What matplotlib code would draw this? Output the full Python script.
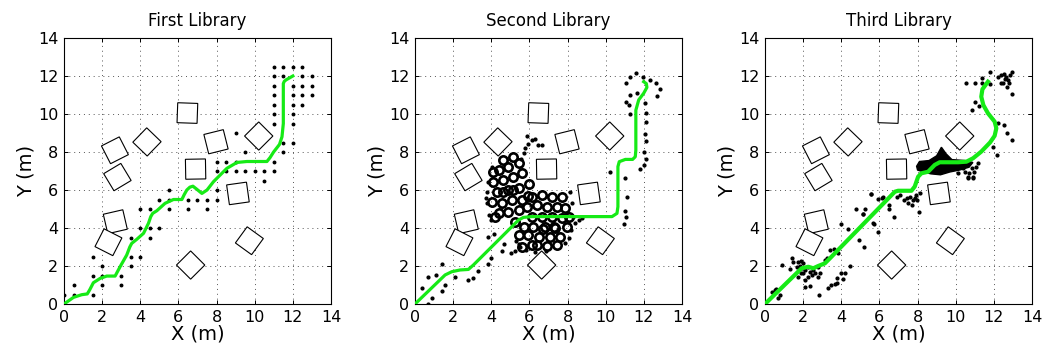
import matplotlib
matplotlib.use("Agg")
import matplotlib.pyplot as plt
import matplotlib.patches as mpatches

# obstacles (same map in all three panels)
obs_x   = [6.47, 6.90, 4.35, 2.67, 2.80, 2.69, 2.33, 6.64, 7.97, 10.21, 9.12, 9.72]
obs_y   = [10.05, 7.10, 8.53, 8.09, 6.68, 4.33, 3.25, 2.05, 8.54, 8.84, 5.82, 3.33]
obs_ang = [-2, 1, 46, 27, 31, 13, -27, 45, 14, 45, 8, -36]

titles = ["First Library", "Second Library", "Third Library"]

# ---- panel 1 ----
path1_x = [0, 0.5, 0.93, 1.22, 1.35, 1.54, 1.9, 2.24, 2.68, 2.94, 3.29, 3.45, 3.55, 3.81, 4.17,
           4.43, 4.55, 4.65, 4.87, 5.3, 5.74, 6.18, 6.3, 6.44, 6.6, 6.76, 6.95, 7.23, 7.5, 7.84,
           8.54, 9.07, 9.59, 10.64, 10.8, 10.99, 11.3, 11.43, 11.5, 11.5, 11.55, 11.65, 12.0]
path1_y = [0, 0.35, 0.49, 0.53, 0.75, 1.12, 1.35, 1.47, 1.47, 1.96, 2.58, 3.0, 3.19, 3.40, 3.72,
           4.25, 4.6, 4.77, 4.91, 5.3, 5.5, 5.5, 5.75, 6.0, 6.15, 6.2, 6.05, 5.82, 6.0, 6.44,
           7.14, 7.45, 7.5, 7.5, 7.7, 8.0, 8.4, 8.8, 9.5, 11.6, 11.72, 11.8, 12.0]
dots1_x = [0, 0.5, 1.5, 0.5, 2, 3, 1.5, 2, 3, 2, 3.5, 1.5, 3.5, 4, 3.5, 4.5, 4, 4.5, 5,
           4, 4.5, 5.5, 6.5, 7.5, 5, 5.5, 6.5, 7, 7.5, 8, 5.5, 8, 10.5,
           8, 8.5, 9, 9.5, 10, 10.5, 11, 8, 8.5, 9, 11, 9.5, 11.5, 11.5, 12, 9,
           11, 12, 11, 12, 11, 12, 12.5, 11, 12, 12.5, 13, 11, 12, 12.5, 13,
           11, 11.5, 12.5, 13, 11, 11.5, 12, 12.5]
dots1_y = [0.5, 0.5, 0.5, 1, 1, 1, 1.5, 1.5, 1.5, 2, 2, 2.5, 2.5, 2.5, 3.5, 3.5, 4, 4, 4,
           5, 5, 5, 5, 5, 5.5, 5.5, 5.5, 5.5, 5.5, 5.5, 6, 6, 6.5,
           7, 7, 7, 7, 7, 7, 7, 7.5, 7.5, 7.5, 7.5, 8, 8, 8.5, 8.5, 9,
           9.5, 9.5, 10, 10, 10.5, 10.5, 10.5, 11, 11, 11, 11, 11.5, 11.5, 11.5, 11.5,
           12, 12, 12, 12, 12.5, 12.5, 12.5, 12.5]

# ---- panel 2 ----
path2_x = [0, 1.58, 1.93, 2.36, 2.8, 3.06, 5.43, 5.69, 6.13, 10.33, 10.59, 10.64, 10.64, 10.71,
           11.03, 11.41, 11.55, 11.58, 11.58, 11.73, 11.99, 12.16, 12.13, 11.99]
path2_y = [0, 1.53, 1.7, 1.79, 1.82, 2.05, 4.42, 4.56, 4.6, 4.6, 4.77, 5.12, 7.23, 7.49,
           7.61, 7.61, 7.75, 8.1, 10.2, 10.74, 11.09, 11.4, 11.6, 11.7]
rings2_x = [4.38, 4.9, 5.43, 4.11, 4.64, 5.16, 5.6, 4.29, 4.9, 5.43, 4.03, 4.55, 5.08, 5.6,
            4.38, 4.9, 5.43, 6.13, 6.65, 7.18, 7.7, 5.86, 6.39, 6.91, 7.44, 7.88, 6.13, 6.65,
            7.18, 7.7, 5.69, 6.21, 6.83, 7.35, 7.96, 5.43, 5.95, 6.48, 7.09, 7.61, 6.13, 5.6,
            4.64, 5.16, 4.6, 5.15, 4.1, 6.4, 6.9, 7.45, 5.95, 6.7, 7.3, 8.1, 4.2, 6.0, 5.25]
rings2_y = [7.05, 7.23, 7.4, 6.44, 6.53, 6.7, 6.88, 5.91, 6.0, 6.09, 5.39, 5.3, 5.47, 5.47,
            4.77, 4.86, 4.95, 5.65, 5.74, 5.65, 5.65, 5.12, 5.21, 5.12, 5.12, 5.04, 4.6, 4.6,
            4.6, 4.51, 4.07, 4.07, 4.07, 3.98, 4.07, 3.63, 3.63, 3.54, 3.51, 3.54, 3.11, 3.02,
            7.6, 7.75, 5.9, 6.0, 6.95, 3.1, 3.05, 3.1, 5.7, 3.95, 4.05, 4.6, 4.6, 6.3, 4.3]
dots2_x = [0.35, 0.7, 0.88, 0.7, 1.09, 1.44, 1.44, 1.58, 2.1, 2.8, 3.06, 3.29, 3.85, 3.97,
           3.85, 4.15, 4.55, 4.67, 5.02, 5.22, 5.43, 5.51, 3.8, 3.75, 3.9, 8.58, 8.75, 8.4,
           8.3, 5.86, 5.92, 5.78, 5.69, 5.57, 6.13, 6.27, 6.44, 6.68,
           3.7, 3.85, 4.05, 8.15, 8.25, 8.2, 8.05, 7.85, 6.85, 6.3, 5.8, 5.3, 4.0,
           10.24, 11.03, 11.11, 10.99, 11.08, 10.94, 11.81, 11.99, 12.13, 12.13, 11.99, 12.08,
           12.13, 12.13, 12.08, 11.25, 11.2, 11.06, 11.29, 11.06, 11.25, 11.6, 11.95, 12.3,
           12.65, 12.83, 12.69, 11.64]
dots2_y = [0.82, 0.0, 0.33, 1.4, 1.53, 2.11, 0.68, 1.0, 1.4, 1.26, 1.35, 1.75, 2.09, 2.44,
           3.51, 3.67, 2.81, 3.14, 2.67, 2.81, 3.14, 2.98, 5.9, 5.3, 4.7, 4.42, 4.51, 4.25,
           4.6, 8.84, 8.42, 8.19, 7.93, 7.61, 8.63, 8.67, 8.37, 8.37,
           5.6, 6.4, 7.2, 5.9, 5.3, 3.9, 3.5, 3.2, 2.8, 2.75, 2.85, 3.3, 4.4,
           6.93, 6.61, 5.65, 4.89, 4.56, 4.21, 7.11, 7.32, 7.61, 8.6, 8.02, 8.93,
           9.6, 10.04, 10.6, 9.98, 10.47, 10.61, 11.0, 11.61, 11.96, 12.14, 11.96, 11.79,
           11.65, 11.3, 10.95, 11.12]

# ---- panel 3 ----
path3_x = [0, 1.92, 2.27, 2.53, 2.79, 3.14, 3.4, 6.81, 6.98, 7.68, 7.85, 8.03, 8.2, 8.55, 8.9,
           9.16, 10.12, 10.56, 10.91, 11.34, 11.8, 12.04, 12.13, 12.04, 11.69, 11.45, 11.34,
           11.4, 11.69]
path3_y = [0, 1.88, 1.96, 1.88, 2.0, 2.14, 2.4, 5.91, 5.96, 5.96, 6.18, 6.7, 6.88, 6.96, 7.32,
           7.46, 7.46, 7.49, 7.67, 8.02, 8.5, 8.85, 9.25, 9.6, 10.04, 10.47, 10.91,
           11.3, 11.7]
blob3_x = [7.95, 8.1, 8.6, 9.0, 9.25, 9.5, 9.8, 10.5, 10.9, 10.7, 10.2, 9.7, 9.2, 8.7, 8.3, 8.0]
blob3_y = [7.25, 7.5, 7.55, 7.8, 8.25, 7.9, 7.6, 7.55, 7.45, 7.2, 7.05, 6.95, 6.8, 6.85, 6.95, 7.05]
dots3_x = [0.35, 0.52, 0.7, 0.79, 0.91, 1.4, 1.48, 1.31, 1.66, 1.75, 1.88, 2.0, 1.83, 1.95,
           2.09, 2.27, 2.36, 2.53, 2.62, 2.44, 2.76, 2.88, 1.88, 1.75, 2.23, 2.09, 2.36, 2.0,
           2.79, 3.14, 3.23, 3.4, 3.63, 3.84, 4.01, 4.19, 4.1, 3.8, 3.8, 3.66, 3.46, 3.28,
           2.84, 2.09, 0.58, 4.01, 4.45, 4.36, 4.92, 5.18, 5.24, 5.55, 5.15, 5.72, 5.93,
           5.54, 4.77, 5.15, 5.64, 5.94, 6.11, 6.2, 6.51, 6.51, 6.76, 6.9, 7.07, 7.28, 7.42,
           7.51, 7.6, 7.77, 7.86, 7.91, 7.69, 7.95, 8.08, 8.12,
           10.38, 10.65, 10.91, 11.08, 11.17, 10.12, 10.96, 10.88, 10.7, 10.91, 10.65, 10.48,
           11.79, 11.4, 11.4, 11.0, 10.56, 12.22, 12.4, 12.52, 12.66, 12.83, 12.97, 12.35,
           12.48, 12.75, 12.8, 12.69, 12.97, 11.79, 12.57, 11.0, 10.83, 11.23, 12.22, 12.54,
           12.71, 12.97, 11.93, 12.19]
dots3_y = [0.65, 0.74, 0.3, 0.47, 2.05, 2.4, 2.23, 1.82, 1.93, 2.23, 2.26, 2.14, 1.99, 1.87,
           1.79, 1.96, 1.7, 1.79, 1.61, 1.53, 1.44, 1.61, 1.61, 1.44, 1.44, 1.26, 0.95, 1.61,
           1.96, 2.32, 2.4, 2.84, 2.88, 2.67, 1.65, 1.65, 1.3, 1.35, 1.12, 1.03, 0.98, 0.86,
           0.47, 0.88, 0.79, 4.21, 2.0, 3.95, 3.37, 2.98, 5.0, 5.77, 4.74, 4.19, 3.81,
           5.77, 4.98, 4.74, 4.25, 5.51, 5.56, 5.65, 5.21, 4.98, 4.56, 5.61, 5.74, 5.47, 5.56,
           5.33, 5.65, 5.47, 5.56, 5.74, 5.21, 5.47, 4.86, 5.83,
           7.14, 6.7, 6.7, 7.19, 7.44, 6.88, 6.96, 7.14, 6.88, 6.65, 6.65, 6.96,
           12.19, 11.88, 11.61, 11.65, 11.61, 11.96, 12.05, 12.09, 11.96, 12.05, 12.19, 11.61,
           11.61, 11.79, 11.61, 11.44, 11.04, 11.56, 11.84, 10.65, 10.21, 10.42, 9.54, 9.42,
           9.02, 8.63, 8.25, 7.84]

GREEN = "#16ea16"
SIDE = 1.05
W_IN, H_IN = 10.43, 3.56
plt.rcParams["font.family"] = "DejaVu Sans"

fig = plt.figure(figsize=(W_IN, H_IN), dpi=100)
lefts = [64, 415, 765]
axes = []
for i, lx in enumerate(lefts):
    ax = fig.add_axes([lx / 1043, 52 / 356, 267 / 1043, 266 / 356])
    ax.set_xlim(0, 14); ax.set_ylim(0, 14)
    ax.set_xticks(range(0, 15, 2)); ax.set_yticks(range(0, 15, 2))
    ax.tick_params(direction="in", top=True, right=True, length=3, width=0.7,
                   labelsize=11.5, pad=4)
    ax.grid(True, color="#555555", linestyle=(0, (1, 4)), linewidth=0.7)
    ax.set_axisbelow(True)
    for sp in ax.spines.values():
        sp.set_linewidth(0.8)
    ax.set_title(titles[i], fontsize=12, pad=9)
    ax.set_xlabel("X (m)", fontsize=14, labelpad=0)
    ax.set_ylabel("Y (m)", fontsize=14, labelpad=2)
    for cx, cy, a in zip(obs_x, obs_y, obs_ang):
        ax.add_patch(mpatches.Rectangle((cx - SIDE / 2, cy - SIDE / 2), SIDE, SIDE, angle=a,
                                        rotation_point="center", facecolor="white",
                                        edgecolor="black", linewidth=0.8, zorder=2))
    axes.append(ax)

ax1, ax2, ax3 = axes
ax1.plot(dots1_x, dots1_y, "o", color="black", markersize=1.8, zorder=3)
ax1.plot(path1_x, path1_y, color=GREEN, linewidth=2.3, zorder=4)

ax2.plot(rings2_x, rings2_y, "o", markerfacecolor="none", markeredgecolor="black",
         markersize=6, markeredgewidth=1.9, zorder=3)
ax2.plot(dots2_x, dots2_y, "o", color="black", markersize=2, zorder=3)
ax2.plot(path2_x, path2_y, color=GREEN, linewidth=2.3, zorder=4)

ax3.fill(blob3_x, blob3_y, color="black", zorder=3)
ax3.plot(dots3_x, dots3_y, "o", color="black", markersize=2, zorder=3)
ax3.plot(path3_x, path3_y, color=GREEN, linewidth=3, zorder=4)

fig.savefig("out.png", dpi=100)
